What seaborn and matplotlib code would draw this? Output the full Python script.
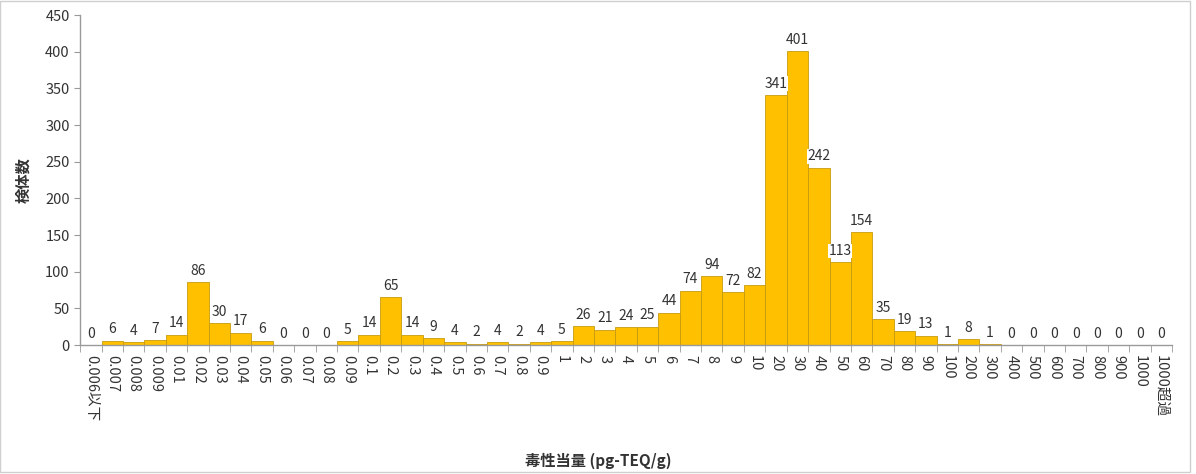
import numpy as np
import pandas as pd
import matplotlib
matplotlib.use("Agg")
import matplotlib.pyplot as plt
import seaborn as sns
from matplotlib.patches import Rectangle
from matplotlib.ticker import FixedLocator, MultipleLocator

# --- data ---
categories = ["0.006以下", "0.007", "0.008", "0.009", "0.01", "0.02", "0.03", "0.04", "0.05",
              "0.06", "0.07", "0.08", "0.09", "0.1", "0.2", "0.3", "0.4", "0.5", "0.6", "0.7",
              "0.8", "0.9", "1", "2", "3", "4", "5", "6", "7", "8", "9", "10", "20", "30", "40",
              "50", "60", "70", "80", "90", "100", "200", "300", "400", "500", "600", "700",
              "800", "900", "1000", "1000超過"]
counts = [0, 6, 4, 7, 14, 86, 30, 17, 6, 0, 0, 0, 5, 14, 65, 14, 9, 4, 2, 4,
          2, 4, 5, 26, 21, 24, 25, 44, 74, 94, 72, 82, 341, 401, 242,
          113, 154, 35, 19, 13, 1, 8, 1, 0, 0, 0, 0, 0, 0, 0, 0]

x_label = "毒性当量 (pg-TEQ/g)"
y_label = "検体数"

df = pd.DataFrame({"cat": categories, "n": counts})

sns.set_style("white")
plt.rcParams["font.family"] = ["Noto Sans CJK JP", "DejaVu Sans"]

fig = plt.figure(figsize=(11.96, 4.74), dpi=100)
ax = fig.add_axes([0.067, 0.272, 0.913, 0.696])

sns.barplot(data=df, x="cat", y="n", color="#FFC000", saturation=1, width=1.0,
            edgecolor="#C89A10", linewidth=0.6, ax=ax)

ax.set_xlim(-0.5, len(categories) - 0.5)
ax.set_ylim(0, 450)
ax.yaxis.set_major_locator(MultipleLocator(50))

# value labels
for i, v in enumerate(counts):
    ax.text(i, v + 6, str(v), ha="center", va="bottom", fontsize=10, color="#333333",
            bbox=dict(facecolor="white", edgecolor="none", pad=0.2))

# axes styling (Excel-like)
for s in ["top", "right"]:
    ax.spines[s].set_visible(False)
for s in ["left", "bottom"]:
    ax.spines[s].set_color("#9a9a9a")
    ax.spines[s].set_linewidth(1)

ax.tick_params(axis="y", which="major", length=4, color="#9a9a9a", direction="out",
               labelsize=10.5, labelcolor="#333333", left=True)
ax.set_xticks(range(len(categories)))
ax.set_xticklabels(categories, rotation=-90, fontsize=10.5, color="#333333", va="top", ha="center")
ax.tick_params(axis="x", which="major", length=0, pad=7)
ax.xaxis.set_minor_locator(FixedLocator(np.arange(-0.5, len(categories), 1)))
ax.tick_params(axis="x", which="minor", length=5, color="#9a9a9a", direction="out", bottom=True)

ax.set_xlabel("")
ax.set_ylabel(y_label, fontsize=11, fontweight="bold", color="#333333", labelpad=10)
fig.text(0.5, 0.01, x_label, ha="center", va="bottom", fontsize=11, fontweight="bold",
         color="#333333")

# light frame around the chart
fig.patches.append(Rectangle((0.0, 0.004), 0.995, 0.994, transform=fig.transFigure,
                             fill=False, edgecolor="#cfcfcf", linewidth=1))

fig.savefig("out.png", dpi=100, facecolor="white")
